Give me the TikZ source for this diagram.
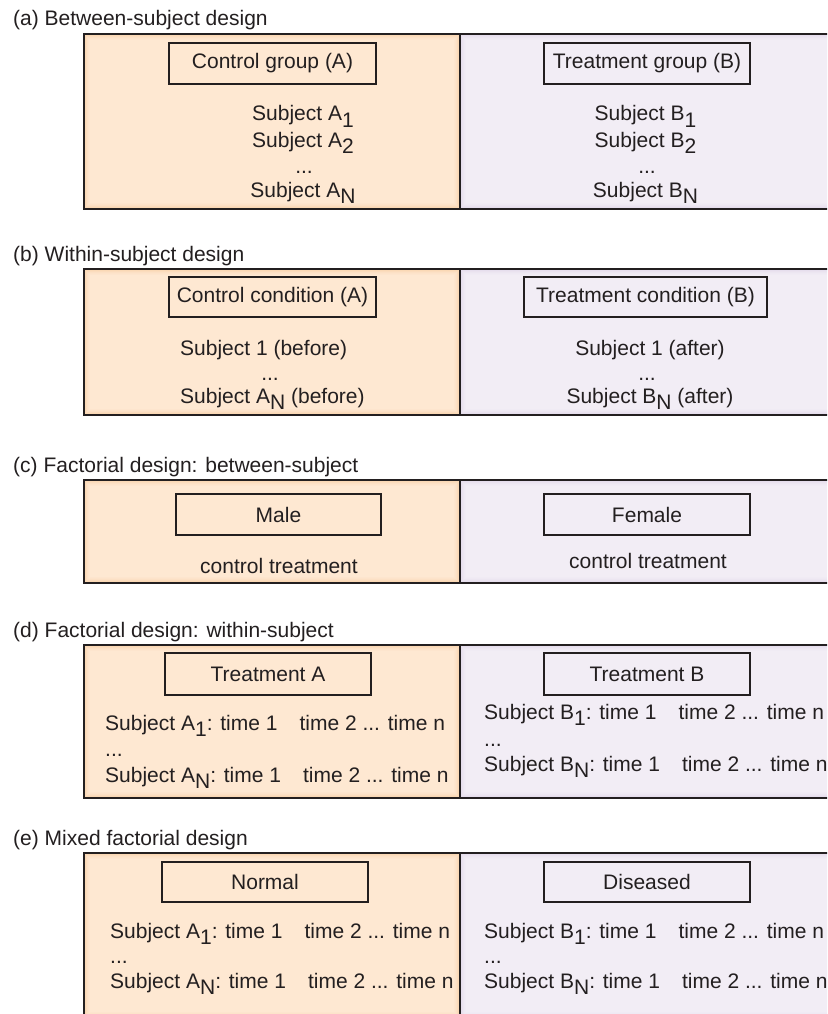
\documentclass[tikz,border=0pt]{standalone}
\usepackage{fontspec}
\setmainfont{Liberation Sans}
\definecolor{peach}{HTML}{FEE8D2}
\definecolor{peachglow}{HTML}{F6C08A}
\definecolor{lav}{HTML}{F2EDF5}
\definecolor{lavglow}{HTML}{D6C8E2}
\definecolor{ink}{HTML}{231F20}
\newcommand\sbs[1]{\raisebox{-0.29em}{#1}}
\newcommand\glowrect[5]{%
  \foreach \i/\o in {0.5/0.55,1.5/0.4,2.5/0.28,3.5/0.18,4.5/0.1,5.5/0.05}
    \draw[#5, opacity=\o, line width=1pt] ({#1+\i},{#2+\i}) rectangle ({#3-\i},{#4-\i});}
\newcommand\designpanel[2]{%
  \fill[peach] (84,#1) rectangle (460,#2);
  \glowrect{84}{#1}{460}{#2}{peachglow}
  \fill[lav] (460,#1) rectangle (840,#2);
  \glowrect{460}{#1}{840}{#2}{lavglow}
  \draw[panelline] (840,#1) -- (84,#1) -- (84,#2) -- (840,#2);
  \draw[panelline] (460,#1) -- (460,#2);}
\begin{document}
\begin{tikzpicture}[x=1pt,y=-1pt,
  txt/.style={font=\fontsize{21}{25}\selectfont, inner sep=0pt, text=ink},
  ttl/.style={txt, anchor=base west},
  hdr/.style={txt, draw=ink, line width=1.6pt, minimum width=206pt, minimum height=41pt},
  cline/.style={txt, anchor=base},
  lline/.style={txt, anchor=base west},
  panelline/.style={draw=ink, line width=1.8pt}]
\clip (0,0) rectangle (827,1014);
\fill[white] (0,0) rectangle (827,1014);

% (a)
\node[ttl] (ta) at (13,26) {(a) Between-subject design};
\designpanel{34}{209}
\node[hdr, minimum width=207pt] (ha) at (272.5,63.5) {Control group (A)};
\node[hdr] (hb) at (647,63.5) {Treatment group (B)};
\node[cline] (a1) at (303,121) {Subject A\sbs{1}};
\node[cline] (a2) at (303,147) {Subject A\sbs{2}};
\node[cline] (a3) at (304,173) {...};
\node[cline] (a4) at (303,197) {Subject A\sbs{N}};
\node[cline] (b1) at (645.5,121) {Subject B\sbs{1}};
\node[cline] (b2) at (645.5,147) {Subject B\sbs{2}};
\node[cline] (b3) at (647,173) {...};
\node[cline] (b4) at (645.5,197) {Subject B\sbs{N}};

% (b)
\node[ttl] (tb) at (13,261) {(b) Within-subject design};
\designpanel{269}{415}
\node[hdr, minimum width=207pt, minimum height=40pt] (hc) at (272.5,297) {Control condition (A)};
\node[hdr, minimum width=243pt, minimum height=40pt] (hd) at (645.5,297) {Treatment condition (B)};
\node[lline] (c1) at (180,355) {Subject 1 (before)};
\node[cline] (c2) at (270,380) {...};
\node[lline] (c3) at (180,403) {Subject A\sbs{N} (before)};
\node[cline] (d1) at (650,355) {Subject 1 (after)};
\node[cline] (d2) at (647,380) {...};
\node[cline] (d3) at (650,403) {Subject B\sbs{N} (after)};

% (c)
\node[ttl] (tc) at (13,472) {(c) Factorial design: between-subject};
\designpanel{480}{583}
\node[hdr, minimum width=205pt] (he) at (278.5,514.5) {Male};
\node[hdr] (hf) at (647,514.5) {Female};
\node[cline] (e1) at (279,573) {control treatment};
\node[cline] (f1) at (648,568) {control treatment};

% (d)
\node[ttl] (td) at (13,637) {(d) Factorial design: within-subject};
\designpanel{645}{798}
\node[hdr, minimum height=42pt] (hg) at (268,674) {Treatment A};
\node[hdr, minimum height=42pt] (hh) at (647,674) {Treatment B};
\node[lline] (g1) at (105,730) {Subject A\sbs{1}: time 1\hspace{22pt}time 2 ... time n};
\node[lline] (g2) at (105,756) {...};
\node[lline] (g3) at (105,782) {Subject A\sbs{N}: time 1\hspace{22pt}time 2 ... time n};
\node[lline] (h1) at (484,719) {Subject B\sbs{1}: time 1\hspace{22pt}time 2 ... time n};
\node[lline] (h2) at (484,746) {...};
\node[lline] (h3) at (484,771) {Subject B\sbs{N}: time 1\hspace{22pt}time 2 ... time n};

% (e)
\node[ttl] (te) at (13,845) {(e) Mixed factorial design};
\designpanel{853}{1018}
\node[hdr, minimum height=40pt] (hi) at (265,882) {Normal};
\node[hdr, minimum height=40pt] (hj) at (647,882) {Diseased};
\node[lline] (i1) at (110,938) {Subject A\sbs{1}: time 1\hspace{22pt}time 2 ... time n};
\node[lline] (i2) at (110,963) {...};
\node[lline] (i3) at (110,988) {Subject A\sbs{N}: time 1\hspace{22pt}time 2 ... time n};
\node[lline] (j1) at (484,938) {Subject B\sbs{1}: time 1\hspace{22pt}time 2 ... time n};
\node[lline] (j2) at (484,963) {...};
\node[lline] (j3) at (484,988) {Subject B\sbs{N}: time 1\hspace{22pt}time 2 ... time n};
\end{tikzpicture}
\end{document}
